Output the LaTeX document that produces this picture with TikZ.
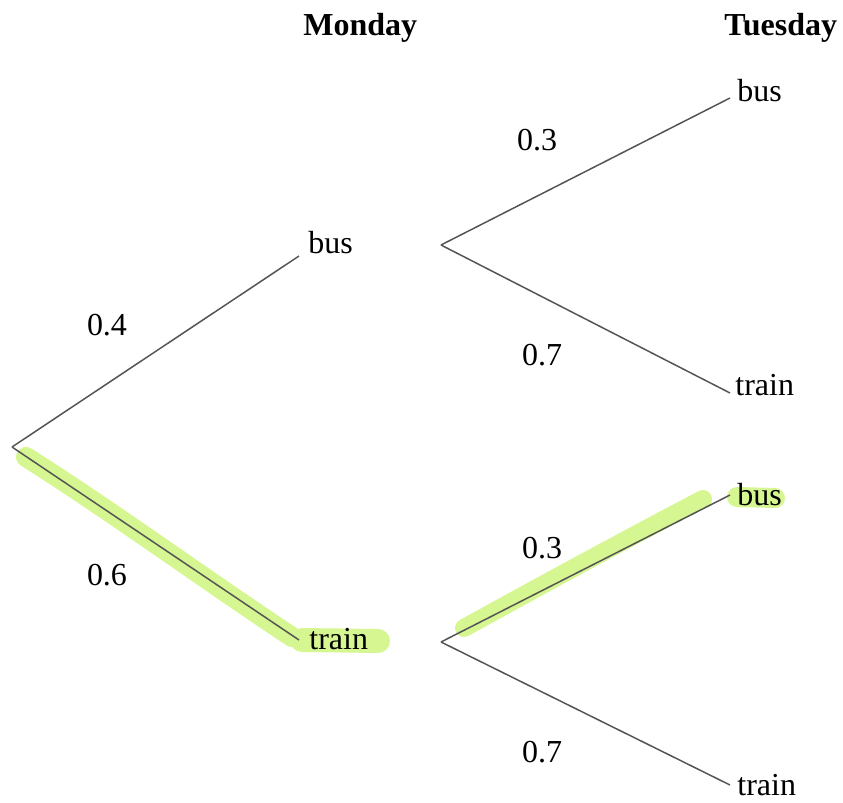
\documentclass[tikz,border=0pt]{standalone}
\usepackage{fontspec}
\setmainfont{Liberation Serif}
\usepackage{xcolor}
\usepackage{tikz}
\usetikzlibrary{positioning}
\definecolor{hlgreen}{RGB}{214,246,146}
\definecolor{branchgray}{RGB}{85,85,85}

\begin{document}
\begin{tikzpicture}[x=0.5pt, y=-0.5pt, font=\fontsize{16}{19}\selectfont]
  \tikzset{branch/.style={draw=branchgray, line width=0.75pt},outcome/.style={anchor=base west, inner sep=0pt},prob/.style={inner sep=0pt},daylabel/.style={anchor=base west, inner sep=0pt, font=\fontsize{16}{19}\selectfont\bfseries},marker/.style={draw=hlgreen, line width=10pt, line cap=round}}
  \useasboundingbox (0,0) rectangle (843,803);
  % highlighted route: train, then bus
  \draw[marker] (26,457) .. controls (110,510) and (200,576) .. (292,637);
  \draw[marker, line width=12pt] (302,640) -- (378,641);
  \draw[marker, line width=9pt] (464,628) .. controls (560,575) and (640,532) .. (703,499);
  \draw[marker, line width=10pt] (737,497) -- (775,498);
  \node[daylabel] (mon) at (303,35) {Monday};
  \node[daylabel] (tue) at (724,35) {Tuesday};
  \coordinate (root) at (12,447);
  \coordinate (mbus) at (299,256);
  \coordinate (mtrain) at (299,640);
  \coordinate (bfork) at (441,245);
  \coordinate (tfork) at (441,642);
  \coordinate (bbus) at (730,98);
  \coordinate (btrain) at (730,393);
  \coordinate (tbus) at (730,495);
  \coordinate (ttrain) at (730,785);
  \node[outcome] (mbustxt) at (308,253) {bus};
  \node[outcome] (mtraintxt) at (309,649) {train};
  \node[outcome] (bbustxt) at (737,102) {bus};
  \node[outcome] (btraintxt) at (735,395) {train};
  \node[outcome] (tbustxt) at (737,505) {bus};
  \node[outcome] (ttraintxt) at (737,795) {train};
  \draw[branch] (root) -- (mbus);
  \draw[branch] (root) -- (mtrain);
  \draw[branch] (bfork) -- (bbus);
  \draw[branch] (bfork) -- (btrain);
  \draw[branch] (tfork) -- (tbus);
  \draw[branch] (tfork) -- (ttrain);
  \node[prob] (p1) at (107,325) {0.4};
  \node[prob] (p2) at (107,575) {0.6};
  \node[prob] (p3) at (537,140) {0.3};
  \node[prob] (p4) at (542,355) {0.7};
  \node[prob] (p5) at (542,548) {0.3};
  \node[prob] (p6) at (542,752) {0.7};
\end{tikzpicture}
\end{document}
